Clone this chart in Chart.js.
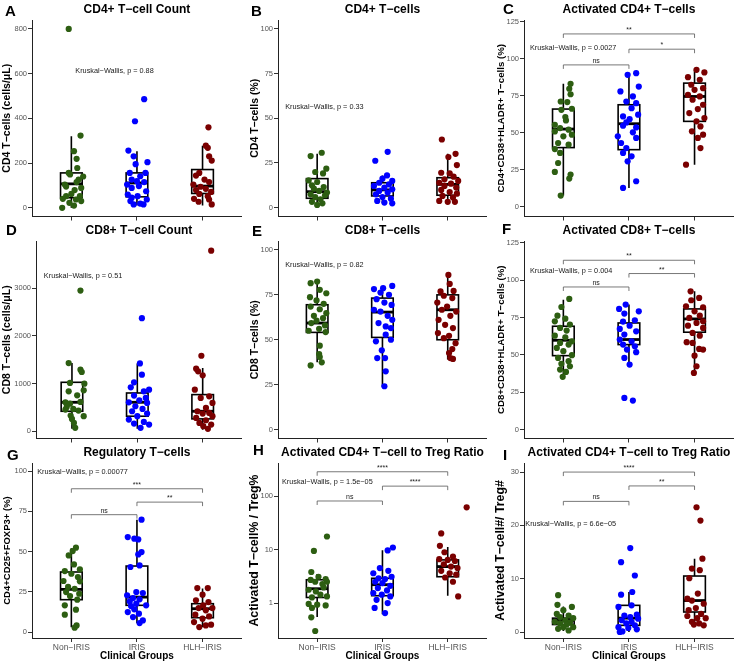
<!DOCTYPE html>
<html>
<head>
<meta charset="utf-8">
<script src="https://cdn.jsdelivr.net/npm/chart.js@4.4.0/dist/chart.umd.min.js"></script>
<style>
  body { margin: 0; background: #fff; width: 737px; height: 666px; position: relative; overflow: hidden; }
  canvas { position: absolute; }
</style>
</head>
<body>
<script>
// Groups and colours
const groups = ['Non−IRIS', 'IRIS', 'HLH−IRIS'];
const groupColors = ['#2d5e12', '#0000ff', '#7a0000'];

// A - CD4+ T-cell count (cells/uL). Jitter = horizontal offset (category units)
const cd4CountNon = [800, 323, 253, 219, 178, 156, 149, 140, 126, 115, 104, 95, 89, 79, 62, 52, 52, 40, 37, 30, 22, 10, 0];
const cd4CountNonJit = [-0.04, 0.14, 0.04, 0.08, 0.09, -0.04, -0.02, 0.18, 0.11, 0.08, -0.10, -0.08, 0.15, 0.05, 0, -0.08, 0.13, -0.13, 0.07, 0.15, -0.03, 0.04, -0.14];
const cd4CountIris = [486, 387, 256, 230, 204, 195, 156, 156, 141, 126, 119, 115, 104, 97, 89, 74, 59, 52, 45, 37, 30, 19, 15, 15];
const cd4CountIrisJit = [0.11, -0.03, -0.13, -0.05, 0.16, -0.02, -0.11, 0.13, 0.05, -0.08, 0, 0.11, -0.15, 0.03, -0.08, 0.14, -0.14, 0.01, -0.08, 0.15, -0.10, 0.05, -0.05, 0.10];
const cd4CountHlh = [360, 278, 268, 230, 211, 156, 144, 126, 115, 104, 94, 85, 79, 71, 62, 52, 40, 37, 27, 15];
const cd4CountHlhJit = [0.09, 0.05, 0.08, 0.10, 0.14, -0.05, -0.10, 0.03, 0.10, -0.14, -0.03, 0.05, -0.10, 0.13, -0.05, 0.08, -0.13, 0.10, -0.06, 0.14];
const cd4CountBox = [[0, 45, 107, 156, 320], [10, 49, 111, 156, 253], [10, 64, 97, 171, 278]];
const cd4CountTicks = [0, 200, 400, 600, 800];

// B - CD4+ T-cells (%)
const cd4PctNon = [30.7, 28.8, 21.8, 19.9, 19.1, 15.2, 14.3, 12.5, 11.5, 10.6, 9.3, 8.4, 7.4, 6.9, 5.9, 4.6, 3.2, 2.4, 1.5];
const cd4PctNonJit = [0.07, -0.10, 0.14, -0.03, 0.09, -0.13, 0, -0.08, 0.10, -0.05, 0.03, 0.15, -0.10, 0.12, -0.03, 0.05, -0.08, 0.08, 0];
const cd4PctIris = [31.2, 26.2, 18, 16.2, 14.9, 13.9, 13, 12.1, 11.2, 10.2, 9.3, 8.4, 7.4, 5.9, 5, 3.7, 2.8, 2.4];
const cd4PctIrisJit = [0.08, -0.11, 0.07, 0, 0.15, -0.05, 0.10, -0.13, 0.03, 0.15, -0.05, 0.08, -0.10, 0, 0.13, -0.08, 0.03, 0.15];
const cd4PctHlh = [38.1, 30.1, 28.3, 23.8, 19.5, 19.1, 17.3, 15.8, 14.9, 13.9, 13.4, 12.1, 11.2, 9.9, 8.7, 7.8, 6.5, 5.6, 3.7, 3.2, 3.2];
const cd4PctHlhJit = [-0.09, 0.12, 0.01, 0.14, -0.10, 0.03, 0.09, -0.05, 0.16, -0.13, 0.05, -0.05, 0.13, -0.10, 0.03, 0.14, -0.08, 0.08, -0.13, 0, 0.11];
const cd4PctBox = [[1, 5.2, 8.9, 16.2, 30.1], [2.4, 6.5, 9.9, 13.9, 18], [3, 6.9, 13, 16.7, 30.1]];
const pctTicks = [0, 25, 50, 75, 100];

// C - Activated CD4+ T-cells (%)
const actCd4Non = [83, 79.7, 76, 71.1, 70.7, 66.2, 65.5, 60.6, 58.3, 55.4, 53.2, 52.1, 50.9, 48.7, 47.6, 43.1, 42, 39, 36.4, 29.6, 23.6, 21.8, 19.1, 7.6];
const actCd4NonJit = [0.11, 0.09, 0.11, -0.04, 0.06, 0.13, -0.03, 0.03, 0.04, -0.13, -0.05, 0.08, -0.13, 0.13, 0, -0.08, 0.08, -0.13, -0.05, -0.08, -0.13, 0.11, 0.09, -0.04];
const actCd4Iris = [90.2, 89.1, 81.2, 77.9, 74.5, 71.1, 70, 66.6, 62.2, 61, 59.2, 57, 54.8, 53.6, 50.3, 47.6, 46.5, 43.1, 39.7, 36.4, 34.1, 30.7, 17.3, 12.8];
const actCd4IrisJit = [0.11, -0.02, 0.15, -0.13, 0.06, -0.04, 0.11, 0.04, 0.14, -0.09, 0.01, -0.04, -0.09, 0.11, 0.06, -0.17, 0.11, -0.12, -0.04, -0.09, 0.04, -0.02, 0.11, -0.09];
const actCd4Hlh = [92.5, 90.7, 87.5, 85.7, 82.4, 80.1, 79, 75.6, 74.5, 72.3, 68.9, 66, 63.3, 59.9, 57.7, 54.3, 51, 48.7, 46.5, 39.7, 28.5];
const actCd4HlhJit = [0.03, 0.15, -0.10, 0.08, -0.05, 0.13, 0, -0.10, 0.08, -0.03, 0.13, 0.05, -0.08, 0.15, 0.03, 0.09, -0.04, 0.13, 0.05, 0.09, -0.13];
const actCd4Box = [[7.6, 40, 52.5, 66, 83], [12.8, 38.6, 56.1, 68.9, 89], [28.5, 57.7, 74.5, 83.5, 92.5]];
const actTicks = [0, 25, 50, 75, 100, 125];
const actCd4Brackets = [[1, 2, 95.8, 'ns'], [2, 3, 106.4, '*'], [1, 3, 116.7, '**']];

// D - CD8+ T-cell count (cells/uL)
const cd8CountNon = [2948, 1429, 1289, 1241, 1011, 997, 857, 836, 753, 613, 606, 578, 509, 467, 453, 432, 328, 314, 258, 174, 70];
const cd8CountNonJit = [0.13, -0.05, 0.13, 0.15, -0.03, 0.19, 0.18, -0.05, 0.08, 0.13, -0.10, -0.03, -0.08, 0.02, -0.10, 0.10, -0.02, 0.18, 0, 0.03, 0.05];
const cd8CountIris = [2370, 1420, 1185, 1025, 920, 871, 836, 746, 697, 648, 606, 592, 523, 467, 418, 369, 314, 244, 195, 160, 139, 70];
const cd8CountIrisJit = [0.07, 0.04, 0.07, -0.05, -0.10, 0.18, 0.10, -0.05, 0.13, 0.03, -0.13, 0.15, -0.03, 0.08, -0.08, 0.15, 0, -0.13, 0.10, -0.05, 0.18, 0.05];
const cd8CountHlh = [3785, 1582, 1310, 1255, 1171, 871, 732, 697, 592, 488, 418, 383, 369, 314, 279, 230, 174, 139, 105, 49];
const cd8CountHlhJit = [0.13, -0.02, -0.10, -0.07, 0, -0.12, 0.10, -0.03, 0.15, 0.05, -0.08, 0.10, 0, 0.15, -0.10, 0.05, -0.05, 0.13, 0.01, 0.08];
const cd8CountBox = [[50, 418, 606, 1025, 1429], [50, 314, 606, 801, 1420], [30, 258, 418, 767, 1324]];
const cd8CountTicks = [0, 1000, 2000, 3000];

// E - CD8+ T-cells (%)
const cd8PctNon = [82.4, 81.5, 77.8, 75.9, 73.7, 71.9, 70, 68.5, 67, 64.8, 63.3, 62, 60.6, 59.3, 58, 56.1, 55, 54.3, 46.7, 42, 40.4, 37.4, 35.7];
const cd8PctNonJit = [0, -0.10, 0.04, 0.14, -0.11, -0.01, 0.10, -0.10, 0.04, 0.14, -0.05, 0.09, -0.01, -0.09, 0.12, 0.03, -0.13, 0.13, 0.04, 0.03, 0.04, 0.07, -0.10];
const cd8PctIris = [80, 78.7, 78.2, 76.3, 75, 72.6, 70.7, 69.4, 66.7, 65.7, 63.3, 61.1, 59.3, 57.4, 56.5, 52.8, 50, 49.1, 44.1, 39.8, 39.8, 32.4, 24.1];
const cd8PctIrisJit = [0.15, 0.01, -0.13, -0.03, 0.10, -0.09, 0.03, 0.14, -0.13, -0.03, 0.08, 0.15, -0.06, 0.05, 0.13, 0.05, 0.13, -0.10, -0.01, -0.08, 0.04, 0.05, 0.03];
const cd8PctHlh = [86.1, 81.1, 77.2, 76.9, 74.5, 73.2, 70.7, 68.5, 66.7, 65.7, 63.3, 61.1, 58.3, 56.5, 53.7, 52.2, 50.9, 48.1, 44.8, 42.6, 39.8, 39.3];
const cd8PctHlhJit = [0.01, 0.03, 0.09, -0.11, -0.06, 0.07, -0.16, -0.01, -0.09, 0.13, 0.04, -0.14, -0.04, 0.08, -0.15, 0.02, -0.06, 0.12, 0.07, 0.02, 0.04, 0.08];
const cd8PctBox = [[37.4, 54.1, 59.3, 69.5, 82.4], [24, 51.3, 65.4, 73.2, 80], [39, 50, 66.7, 75, 86]];

// F - Activated CD8+ T-cells (%)
const actCd8Non = [87.5, 82.1, 76.3, 74.3, 72.5, 70.3, 68.1, 66.3, 62.9, 61.8, 59.1, 58, 56.9, 54.7, 52.5, 49.8, 48, 45.8, 44, 42.4, 40.2, 38.6, 35.3];
const actCd8NonJit = [0.09, -0.03, -0.09, 0.03, -0.13, 0.10, -0.05, 0.05, -0.13, 0.03, 0.13, -0.05, 0.08, -0.10, 0, 0.13, -0.08, 0.08, -0.03, 0.10, -0.05, 0.04, -0.01];
const actCd8Iris = [83.7, 80.8, 79.2, 77.7, 73.2, 72.3, 69.6, 67.4, 65.8, 63.6, 60.3, 59.1, 56.9, 55.8, 53.6, 51.8, 48, 43.5, 21.2, 19.4];
const actCd8IrisJit = [-0.05, -0.15, 0.15, -0.07, 0.09, -0.09, 0.01, -0.14, 0.11, -0.07, -0.14, 0.04, -0.09, 0.09, -0.03, 0.11, -0.07, 0.01, -0.07, 0.06];
const actCd8Hlh = [92.6, 88.2, 86.6, 82.6, 81.9, 79.2, 76.3, 74.8, 72.5, 71.4, 69.6, 68.1, 64.7, 62.9, 58.5, 58, 54, 53.6, 49.5, 42.4, 37.9];
const actCd8HlhJit = [-0.06, 0.07, -0.05, -0.13, 0.13, 0, 0.08, -0.08, 0.13, 0.03, -0.10, 0.13, -0.03, 0.08, -0.12, -0.03, 0.07, 0.13, 0, 0.03, -0.01];
const actCd8Box = [[35, 49.5, 59.8, 69.2, 87], [43, 56.9, 60.3, 71.4, 83.7], [38, 65.2, 74.1, 80.8, 92.6]];
const actCd8Brackets = [[1, 2, 95.5, 'ns'], [2, 3, 104.5, '**'], [1, 3, 113.4, '**']];

// G - Regulatory T-cells (%)
const tregNon = [52.4, 50.3, 47.6, 42, 38.9, 37.9, 36.2, 34.2, 31.7, 31.5, 28, 26.9, 24.8, 23.8, 22.4, 20.1, 16.6, 13.9, 10.8, 4.1, 2.7];
const tregNonJit = [0.07, 0.02, -0.04, 0.04, 0.13, -0.10, 0, 0.10, -0.12, 0.13, -0.05, 0.05, -0.08, 0.12, -0.02, 0.09, -0.10, 0.07, -0.10, 0.08, 0.05];
const tregIris = [69.8, 59, 58, 57.5, 49.7, 48.2, 41.4, 40.4, 24.8, 24.2, 22.8, 21.1, 20.3, 19, 17.6, 16.6, 16.1, 14.1, 12.4, 11.4, 9.3, 7.2, 5.6];
const tregIrisJit = [0.07, -0.14, -0.04, 0.02, 0.07, 0.02, 0.04, -0.10, -0.01, 0.09, -0.15, -0.06, 0.04, -0.11, -0.01, 0.14, -0.09, -0.04, -0.14, 0.03, -0.06, 0.09, 0.04];
const tregHlh = [27.3, 27.3, 23.2, 19.7, 18.6, 16.6, 14.9, 14.9, 13.5, 10.8, 9.7, 8.3, 6.2, 4.6, 4.1, 3.1];
const tregHlhJit = [-0.08, 0.08, 0, -0.10, 0.09, 0.01, 0.15, -0.06, 0.05, -0.11, 0.10, 0, -0.13, 0.13, 0.05, -0.05];
const tregBox = [[3, 20.1, 26.5, 37.3, 52], [5.5, 16.6, 21.7, 41, 69.8], [3, 8.9, 14.5, 17.6, 27]];
const tregBrackets = [[1, 2, 72.9, 'ns'], [2, 3, 80.7, '**'], [1, 3, 89, '***']];

// H - Activated CD4+ T-cell % / Treg % (log scale)
const ratioPctNon = [17.5, 9.4, 3.8, 3.1, 2.8, 2.7, 2.5, 2.5, 2.26, 1.96, 1.77, 1.65, 1.43, 1.33, 1.27, 0.96, 0.93, 0.9, 0.81, 0.54, 0.3];
const ratioPctNonJit = [0.15, -0.05, -0.09, 0.02, 0.13, -0.10, -0.03, 0.15, 0.08, 0.10, -0.13, -0.02, 0.05, 0.15, -0.08, -0.13, 0, 0.13, -0.08, -0.09, -0.03];
const ratioPctIris = [10.9, 9.6, 4.5, 4, 3.6, 3.1, 2.9, 2.8, 2.5, 2.36, 2.1, 1.9, 1.72, 1.54, 1.43, 1.33, 1.15, 1.0, 0.81, 0.65];
const ratioPctIrisJit = [0.16, 0.08, -0.04, 0.09, -0.14, 0.14, -0.06, 0.04, -0.11, 0, 0.12, -0.07, 0.07, -0.14, -0.01, 0.12, -0.09, 0.08, -0.12, 0.04];
const ratioPctHlh = [61.5, 20, 11.7, 8.9, 7.4, 6.6, 6.4, 6.1, 5.3, 4.8, 4.5, 4, 3.6, 3.4, 3, 2.5, 1.33];
const ratioPctHlhJit = [0.29, -0.10, -0.12, -0.05, 0.08, -0.13, 0, 0.11, -0.06, 0.05, 0.15, -0.10, 0.03, 0.13, -0.04, 0.08, 0.16];
const ratioPctBox = [[0.55, 1.27, 1.85, 2.72, 3.5], [0.62, 1.37, 2.2, 2.9, 9.7], [1.37, 3.1, 4.8, 6.4, 11.2]];
const ratioPctTicks = [1, 10, 100];
const ratioPctBrackets = [[1, 2, 80.7, 'ns'], [2, 3, 153, '****'], [1, 3, 284, '****']];

// I - Activated CD4+ T-cell # / Treg #
const ratioNumNon = [6.9, 5.1, 4.7, 4.1, 3.4, 3.1, 2.8, 2.6, 2.2, 1.9, 1.75, 1.6, 1.4, 0.9, 0.9, 0.6, 0.3];
const ratioNumNonJit = [-0.08, -0.09, 0.13, 0, -0.10, 0.08, -0.05, 0.15, 0.03, -0.13, 0.10, -0.05, 0.05, 0.15, 0, -0.08, 0.08];
const ratioNumIris = [15.75, 13.1, 10.6, 7.5, 7, 5, 4.7, 3.25, 3.1, 2.8, 2.5, 2.2, 1.9, 1.6, 1.25, 0.9, 0.75, 0.5, 0.1, 0];
const ratioNumIrisJit = [0.02, -0.12, 0.09, 0.05, -0.12, 0.04, -0.16, 0.12, -0.07, 0.02, 0.14, -0.11, 0.04, -0.04, 0.09, -0.16, -0.01, 0.12, -0.10, -0.14];
const ratioNumHlh = [23.4, 20.9, 13.75, 11.9, 11.6, 10.1, 7.2, 6.25, 5.9, 5.3, 4.5, 4.1, 3.4, 3, 2.6, 2.6, 1.9, 1.6, 1.4, 1.25];
const ratioNumHlhJit = [0.03, 0.09, 0.12, -0.04, 0.08, -0.08, 0.05, -0.11, -0.04, 0.14, 0.02, -0.09, 0.10, -0.11, 0.04, 0.17, -0.04, 0.07, -0.01, 0.14];
const ratioNumBox = [[0.2, 1.4, 2.2, 2.6, 4.8], [0, 1.25, 2.6, 5, 7.5], [1.2, 3.75, 5.9, 10.5, 13.75]];
const ratioNumTicks = [0, 10, 20, 30];
const ratioNumBrackets = [[1, 2, 24.5, 'ns'], [2, 3, 27.4, '**'], [1, 3, 30, '****']];

// Kruskal-Wallis labels: [left x, y] in data units
const kwA = [1.06, 612], kwB = [0.51, 56.3], kwC = [0.49, 107];
const kwD = [0.57, 3262], kwE = [0.51, 91.7], kwF = [0.49, 106.5];
const kwG = [0.48, 99.4], kwH = [0.46, 185], kwI = [0.42, 20.3];

// ---- layout (pixels) ----
const CANVAS_H = 222;
const cols = [
  { left: 0, width: 245, plotLeft: 32, plotRight: 242, yTitleX: 7 },
  { left: 245, width: 245, plotLeft: 33, plotRight: 243, yTitleX: 10 },
  { left: 490, width: 247, plotLeft: 34, plotRight: 245, yTitleX: 11 }
];
const rows = [
  { top: 0, plotTop: 20, plotBottom: 217, titleY: 9.5 },
  { top: 222, plotTop: 19, plotBottom: 217, titleY: 9 },
  { top: 444, plotTop: 19, plotBottom: 194, titleY: 8.5 }
];

const panels = [
  { id: 'A', col: 0, row: 0, letter: [5, 12], title: 'CD4+ T−cell Count', yTitle: 'CD4 T−cells (cells/μL)', yFont: 10.5,
    yMin: -39, yMax: 840, yTicks: cd4CountTicks,
    values: [cd4CountNon, cd4CountIris, cd4CountHlh], jitter: [cd4CountNonJit, cd4CountIrisJit, cd4CountHlhJit],
    box: cd4CountBox, kw: 'Kruskal−Wallis, p = 0.88', kwPos: kwA, brackets: [] },
  { id: 'B', col: 1, row: 0, letter: [6, 12], title: 'CD4+ T−cells', yTitle: 'CD4 T−cells (%)', yFont: 10.5,
    yMin: -5, yMax: 105, yTicks: pctTicks,
    values: [cd4PctNon, cd4PctIris, cd4PctHlh], jitter: [cd4PctNonJit, cd4PctIrisJit, cd4PctHlhJit],
    box: cd4PctBox, kw: 'Kruskal−Wallis, p = 0.33', kwPos: kwB, brackets: [] },
  { id: 'C', col: 2, row: 0, letter: [13, 10], title: 'Activated CD4+ T−cells', yTitle: 'CD4+CD38+HLADR+ T−cells (%)', yFont: 9.7,
    yMin: -6.5, yMax: 126.1, yTicks: actTicks,
    values: [actCd4Non, actCd4Iris, actCd4Hlh], jitter: [actCd4NonJit, actCd4IrisJit, actCd4HlhJit],
    box: actCd4Box, kw: 'Kruskal−Wallis, p = 0.0027', kwPos: kwC, brackets: actCd4Brackets },
  { id: 'D', col: 0, row: 1, letter: [6, 9], title: 'CD8+ T−cell Count', yTitle: 'CD8 T−cells (cells/μL)', yFont: 10.5,
    plotLeft: 36, xMin: 0.45,
    yMin: -153, yMax: 3987, yTicks: cd8CountTicks,
    values: [cd8CountNon, cd8CountIris, cd8CountHlh], jitter: [cd8CountNonJit, cd8CountIrisJit, cd8CountHlhJit],
    box: cd8CountBox, kw: 'Kruskal−Wallis, p = 0.51', kwPos: kwD, brackets: [] },
  { id: 'E', col: 1, row: 1, letter: [7, 9.5], title: 'CD8+ T−cells', yTitle: 'CD8 T−cells (%)', yFont: 10.5,
    yMin: -5, yMax: 105, yTicks: pctTicks,
    values: [cd8PctNon, cd8PctIris, cd8PctHlh], jitter: [cd8PctNonJit, cd8PctIrisJit, cd8PctHlhJit],
    box: cd8PctBox, kw: 'Kruskal−Wallis, p = 0.82', kwPos: kwE, brackets: [] },
  { id: 'F', col: 2, row: 1, letter: [12, 7.5], title: 'Activated CD8+ T−cells', yTitle: 'CD8+CD38+HLADR+ T−cells (%)', yFont: 9.7,
    yMin: -6, yMax: 126.3, yTicks: actTicks,
    values: [actCd8Non, actCd8Iris, actCd8Hlh], jitter: [actCd8NonJit, actCd8IrisJit, actCd8HlhJit],
    box: actCd8Box, kw: 'Kruskal−Wallis, p = 0.004', kwPos: kwF, brackets: actCd8Brackets },
  { id: 'G', col: 0, row: 2, letter: [7, 12], title: 'Regulatory T−cells', yTitle: 'CD4+CD25+FOXP3+ (%)', yFont: 9.5,
    yMin: -3.7, yMax: 105, yTicks: pctTicks,
    values: [tregNon, tregIris, tregHlh], jitter: [tregNonJit, tregIrisJit, tregHlhJit],
    box: tregBox, kw: 'Kruskal−Wallis, p = 0.00077', kwPos: kwG, brackets: tregBrackets },
  { id: 'H', col: 1, row: 2, letter: [8, 7], title: 'Activated CD4+ T−cell to Treg Ratio', yTitle: 'Activated T−cell% / Treg%', yFont: 12.3,
    log: true, yMin: 0.222, yMax: 414, yTicks: ratioPctTicks,
    values: [ratioPctNon, ratioPctIris, ratioPctHlh], jitter: [ratioPctNonJit, ratioPctIrisJit, ratioPctHlhJit],
    box: ratioPctBox, kw: 'Kruskal−Wallis, p = 1.5e−05', kwPos: kwH, brackets: ratioPctBrackets },
  { id: 'I', col: 2, row: 2, letter: [13, 12], title: 'Activated CD4+ T−cell to Treg Ratio', yTitle: 'Activated T−cell#/ Treg#', yFont: 12.3,
    yMin: -1.125, yMax: 31.7, yTicks: ratioNumTicks,
    values: [ratioNumNon, ratioNumIris, ratioNumHlh], jitter: [ratioNumNonJit, ratioNumIrisJit, ratioNumHlhJit],
    box: ratioNumBox, kw: 'Kruskal−Wallis, p = 6.6e−05', kwPos: kwI, brackets: ratioNumBrackets }
];

const FONT = "'Liberation Sans', Arial, Helvetica, sans-serif";
Chart.defaults.font.family = FONT;
const panelById = {};
const BOX_WIDTH = 0.33;

// Box plots drawn under the points, through the chart scales
const boxPlugin = {
  id: 'boxes',
  beforeDatasetsDraw(chart) {
    const p = panelById[chart.canvas.id];
    const xs = chart.scales.x, ys = chart.scales.y, ctx = chart.ctx;
    ctx.save();
    ctx.strokeStyle = '#000';
    p.box.forEach((s, i) => {
      const cx = xs.getPixelForValue(i + 1);
      const hw = xs.getPixelForValue(i + 1 + BOX_WIDTH / 2) - cx;
      const [lo, q1, med, q3, hi] = s.map(v => ys.getPixelForValue(v));
      ctx.lineWidth = 1.6;
      ctx.beginPath();
      ctx.moveTo(cx, hi); ctx.lineTo(cx, q3);
      ctx.moveTo(cx, q1); ctx.lineTo(cx, lo);
      ctx.stroke();
      ctx.fillStyle = '#fff';
      ctx.fillRect(cx - hw, q3, 2 * hw, q1 - q3);
      ctx.strokeRect(cx - hw, q3, 2 * hw, q1 - q3);
      ctx.lineWidth = 2.8;
      ctx.beginPath();
      ctx.moveTo(cx - hw, med); ctx.lineTo(cx + hw, med);
      ctx.stroke();
    });
    ctx.restore();
  }
};

// Titles, panel letters, Kruskal-Wallis text and comparison brackets
const annotatePlugin = {
  id: 'annotate',
  afterDraw(chart) {
    const p = panelById[chart.canvas.id];
    const xs = chart.scales.x, ys = chart.scales.y, ctx = chart.ctx, area = chart.chartArea;
    ctx.save();
    ctx.fillStyle = '#000';
    ctx.textBaseline = 'middle';
    ctx.font = 'bold 15px ' + FONT;
    ctx.textAlign = 'left';
    ctx.fillText(p.id, p.letter[0], p.letter[1]);
    ctx.font = 'bold 12px ' + FONT;
    ctx.textAlign = 'center';
    ctx.fillText(p.title, (area.left + area.right) / 2, rows[p.row].titleY);

    ctx.font = '7.3px ' + FONT;
    ctx.textAlign = 'left';
    ctx.fillStyle = '#1a1a1a';
    ctx.fillText(p.kw, xs.getPixelForValue(p.kwPos[0]), ys.getPixelForValue(p.kwPos[1]));

    ctx.strokeStyle = '#555';
    ctx.lineWidth = 0.8;
    ctx.textAlign = 'center';
    ctx.textBaseline = 'alphabetic';
    ctx.font = '7px ' + FONT;
    p.brackets.forEach(([g1, g2, y, label]) => {
      const x1 = xs.getPixelForValue(g1), x2 = xs.getPixelForValue(g2), yy = ys.getPixelForValue(y);
      ctx.beginPath();
      ctx.moveTo(x1, yy + 4); ctx.lineTo(x1, yy); ctx.lineTo(x2, yy); ctx.lineTo(x2, yy + 4);
      ctx.stroke();
      ctx.fillText(label, (x1 + x2) / 2, yy - 2);
    });
    ctx.restore();
  }
};

panels.forEach(p => {
  const col = cols[p.col], row = rows[p.row];
  const last = p.row === 2;
  const plotLeft = p.plotLeft || col.plotLeft;
  const canvas = document.createElement('canvas');
  canvas.id = 'panel' + p.id;
  canvas.width = col.width;
  canvas.height = CANVAS_H;
  canvas.style.left = col.left + 'px';
  canvas.style.top = row.top + 'px';
  document.body.appendChild(canvas);
  panelById[canvas.id] = p;

  const axisGrid = { display: true, drawOnChartArea: false, drawTicks: true, tickLength: 4, color: '#333', lineWidth: 1 };
  const axisBorder = { display: true, color: '#222', width: 1 };

  new Chart(canvas, {
    type: 'scatter',
    data: {
      datasets: p.values.map((vals, g) => ({
        data: vals.map((v, i) => ({ x: g + 1 + p.jitter[g][i], y: v })),
        backgroundColor: groupColors[g],
        borderWidth: 0,
        pointRadius: 3.1,
        pointHoverRadius: 3.1
      }))
    },
    options: {
      responsive: false,
      animation: false,
      events: [],
      layout: { padding: { top: row.plotTop, right: col.width - col.plotRight, left: 0, bottom: 0 } },
      plugins: { legend: { display: false }, tooltip: { enabled: false } },
      scales: {
        x: {
          type: 'linear', min: p.xMin || 0.4, max: 3.6,
          afterBuildTicks: s => { s.ticks = [1, 2, 3].map(v => ({ value: v })); },
          afterFit: s => { s.height = CANVAS_H - row.plotBottom; },
          ticks: { callback: v => last ? groups[v - 1] : '', autoSkip: false, maxRotation: 0, padding: 1, color: '#555', font: { size: 8.5 } },
          grid: axisGrid,
          border: axisBorder,
          title: { display: last, text: 'Clinical Groups', color: '#000', font: { size: 10, weight: 'bold' }, padding: { top: 0, bottom: 4 } }
        },
        y: {
          type: p.log ? 'logarithmic' : 'linear', min: p.yMin, max: p.yMax,
          afterBuildTicks: s => { s.ticks = p.yTicks.map(v => ({ value: v })); },
          afterFit: s => { s.width = plotLeft; },
          ticks: { callback: v => String(v), color: '#555', font: { size: 7.5 }, padding: 1 },
          grid: axisGrid,
          border: axisBorder,
          title: { display: true, text: p.yTitle, color: '#000', font: { size: p.yFont, weight: 'bold' },
                   padding: { top: col.yTitleX - p.yFont * 0.6, bottom: 0 } }
        }
      }
    },
    plugins: [boxPlugin, annotatePlugin]
  });
});
</script>
</body>
</html>
